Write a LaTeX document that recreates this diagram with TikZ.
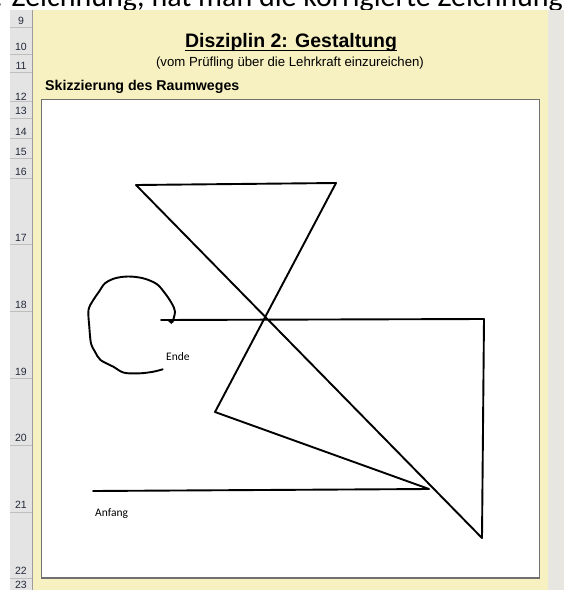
\documentclass[tikz,border=0pt]{standalone}
\usepackage{fontspec}
\setmainfont{Liberation Sans}
\newfontfamily\calibri{Carlito}
\definecolor{sheetyellow}{HTML}{F7F1C2}
\definecolor{rightgray}{HTML}{E7E6E1}
\definecolor{headgray}{HTML}{E4E4E4}
\definecolor{sepgray}{HTML}{BEBEBE}
\definecolor{headborder}{HTML}{9C9C9C}
\definecolor{boxborder}{HTML}{707070}
\definecolor{rownumcol}{HTML}{22283A}
\begin{document}
\begin{tikzpicture}[x=1pt,y=-1pt,
  pen/.style={line width=1.9pt, line join=round, line cap=round, black},
  rowsep/.style={draw=sepgray, line width=0.9pt},
  rownum/.style={font=\fontsize{10.5}{11}\selectfont, text=rownumcol, anchor=base, inner sep=0pt},
  handtext/.style={font=\calibri\fontsize{11.5}{12}\selectfont, anchor=base west, inner sep=0pt}]
\useasboundingbox (0,0) rectangle (564,590);
\fill[white] (0,0) rectangle (564,590);
% clipped text of the page above
\begin{scope}
  \clip (0,0) rectangle (564,10);
  \node[anchor=base east, inner sep=0pt, font=\calibri\fontsize{30}{32}\selectfont] (toptext) at (563,6) {r. Zeichnung, hat man die korrigierte Zeichnung};
\end{scope}
% sheet background
\fill[sheetyellow] (33,10) rectangle (548,590);
\fill[rightgray] (548,10) rectangle (564,590);
\fill[headgray] (10,10) rectangle (32,590);
\draw[headborder, line width=0.9pt] (32.5,10) -- (32.5,590);
\foreach \yy in {27,54,72,101,118,138,158,178,244,311,378,445,512,578}
  \draw[rowsep] (10,\yy) -- (32,\yy);
% row numbers
\foreach \num/\yy in {9/24,10/50.5,11/69.5,12/100,13/114.5,14/135.5,15/155.5,16/175.5,17/241.5,18/308.5,19/375.5,20/441.5,21/508.5,22/574.5,23/588}
  \node[rownum] (r\num) at (21,\yy) {\num};
% headings
\node[anchor=base, inner sep=0pt, font=\bfseries\fontsize{19.5}{20}\selectfont] (title) at (291,47.5) {Disziplin 2: Gestaltung};
\draw[line width=1.3pt] ([yshift=-2.8pt]title.base west) -- ([yshift=-2.8pt]title.base east);
\node[anchor=base, inner sep=0pt, font=\fontsize{13.2}{14}\selectfont] (subtitle) at (290,66.5) {(vom Prüfling über die Lehrkraft einzureichen)};
\node[anchor=base west, inner sep=0pt, font=\bfseries\fontsize{14.2}{15}\selectfont] (skizze) at (45,90.5) {Skizzierung des Raumweges};
% drawing box
\draw[boxborder, line width=1.4pt, fill=white] (41.5,99.5) rectangle (539.5,578);
% path points
\coordinate (A) at (93,491);
\coordinate (B) at (429,489);
\coordinate (C) at (215,412);
\coordinate (D) at (336,183);
\coordinate (E) at (136,185);
\coordinate (F) at (482,538);
\coordinate (G) at (484,319);
\coordinate (H) at (161,320);
\draw[pen] (A) -- (B) -- (C) -- (D) -- (E) -- (F) -- (G) -- (H);
\draw[pen] plot[smooth, tension=0.55] coordinates {(172.5,322) (175,311.7) (171.7,303.3) (165,293.3) (156.7,284) (143.3,278.3) (128.3,276.5) (115,278.3) (105,283.3) (99,291.7) (93.3,300) (88.5,310) (89.3,326.7) (91,343.3) (95,351.7) (100.5,360) (113.3,366.7) (124,372.7) (140,373.3) (153.3,371.7) (162.7,369.3)};
\fill (166,319.2) -- (173.5,319.2) -- (171.5,324) -- cycle;
% labels
\node[handtext] (ende) at (166,360) {Ende};
\node[handtext] (anfang) at (95,516) {Anfang};
\end{tikzpicture}
\end{document}
